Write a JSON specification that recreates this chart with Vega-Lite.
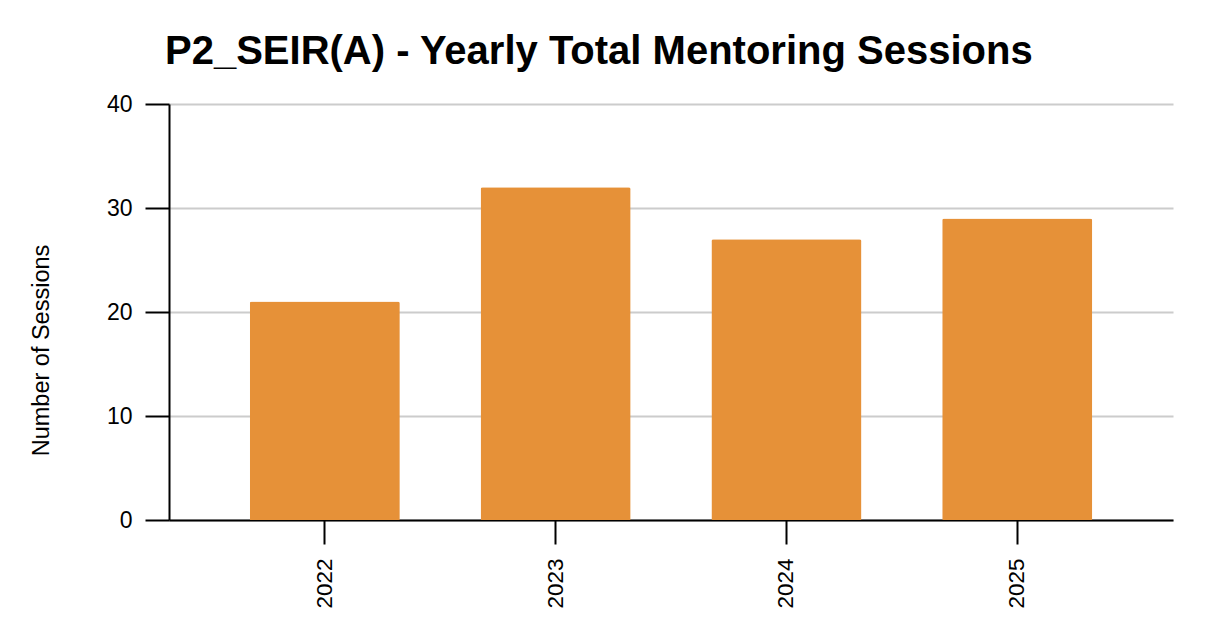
{
  "$schema": "https://vega.github.io/schema/vega-lite/v6.json",
  "width": 1004,
  "height": 416,
  "autosize": {"type": "none"},
  "padding": {"left": 169, "top": 104, "right": 33, "bottom": 122},
  "background": "white",
  "config": {
    "font": "Liberation Sans",
    "view": {"stroke": null}
  },
  "title": {
    "text": "P2_SEIR(A) - Yearly Total Mentoring Sessions",
    "anchor": "start",
    "frame": "group",
    "dx": -4,
    "offset": 21,
    "fontSize": 40,
    "fontWeight": "bold",
    "font": "Liberation Sans",
    "color": "#000000"
  },
  "data": {
    "values": [
      {"year": "2022", "sessions": 21},
      {"year": "2023", "sessions": 32},
      {"year": "2024", "sessions": 27},
      {"year": "2025", "sessions": 29}
    ]
  },
  "mark": {"type": "bar", "color": "#E69138", "cornerRadiusTopLeft": 2, "cornerRadiusTopRight": 2},
  "encoding": {
    "x": {
      "field": "year",
      "type": "ordinal",
      "scale": {"paddingInner": 0.35, "paddingOuter": 0.35},
      "axis": {
        "title": null,
        "labelAngle": -90,
        "labelFontSize": 22.5,
        "labelColor": "#000000",
        "labelPadding": 14,
        "tickSize": 24,
        "tickColor": "#000000",
        "tickWidth": 2,
        "domainColor": "#000000",
        "domainWidth": 2,
        "grid": false
      }
    },
    "y": {
      "field": "sessions",
      "type": "quantitative",
      "scale": {"domain": [0, 40]},
      "axis": {
        "title": "Number of Sessions",
        "titleFontSize": 23.5,
        "titleFontWeight": "normal",
        "titleColor": "#000000",
        "titleAngle": -90,
        "titleX": -128,
        "titleY": 246,
        "titleAlign": "center",
        "titleBaseline": "middle",
        "values": [0, 10, 20, 30, 40],
        "labelFontSize": 23,
        "labelColor": "#000000",
        "labelPadding": 13,
        "tickSize": 24,
        "tickColor": "#000000",
        "tickWidth": 2,
        "domainColor": "#000000",
        "domainWidth": 2,
        "grid": true,
        "gridColor": "#cccccc",
        "gridWidth": 2
      }
    }
  }
}
